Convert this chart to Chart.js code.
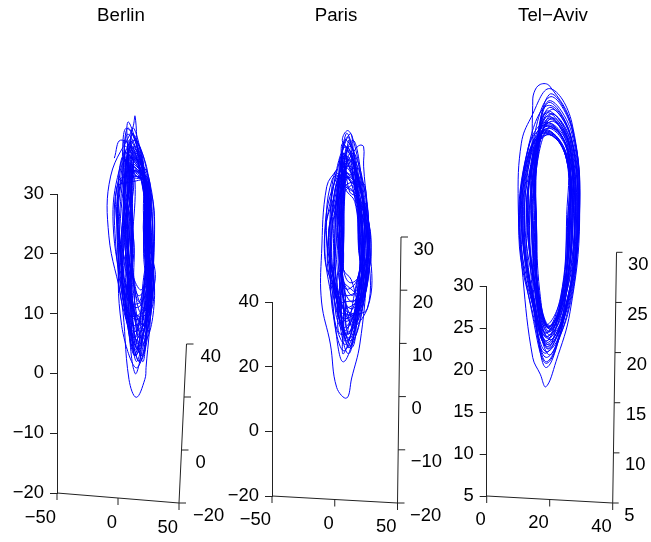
<!DOCTYPE html>
<html>
<head>
<meta charset="utf-8">
<title>Berlin, Paris, Tel-Aviv</title>
<script src="https://cdn.jsdelivr.net/npm/chart.js@4"></script>
<style>
  html, body { margin: 0; background: #fff; overflow: hidden; }
  canvas { position: absolute; top: 0; }
</style>
</head>
<body>
<canvas id="berlin" width="242" height="542" style="left:0"></canvas>
<canvas id="paris" width="238" height="542" style="left:217px"></canvas>
<canvas id="telAviv" width="206" height="542" style="left:450px"></canvas>
<script>
const cities = ["Berlin", "Paris", "Tel\u2212Aviv"];

// left axis, bottom axis and back axis tick labels
const berlinYTicks = [-20, -10, 0, 10, 20, 30];
const berlinXTicks = [-50, 0, 50];
const berlinZTicks = [-20, 0, 20, 40];
const parisYTicks = [-20, 0, 20, 40];
const parisXTicks = [-50, 0, 50];
const parisZTicks = [-20, -10, 0, 10, 20, 30];
const telAvivYTicks = [5, 10, 15, 20, 25, 30];
const telAvivXTicks = [0, 20, 40];
const telAvivZTicks = [5, 10, 15, 20, 25, 30];

// traces, in bottom axis / left axis units
const berlinX = [
  -3, 2, 14, 24, 27, 23, 22, 15, 9, 3, -7.5, -6,
  12, 14, 17, 26, 28, 20, 14, 8, 1, 4,
  8, 21, 25, 27, 18, 8, 4, 6,
  10, 22, 23, 26, 14, 5, -1, 3,
  7, 24, 28, 24, 16, 9, 6, 5,
  13, 25, 26, 29, 19, 10, 2, 8,
  9, 20, 22, 22, 13, 6, 8, 7,
  6, 22, 29, 25, 20, 7, -2, 0,
  11, 23, 27, 30, 15, 11, 5, 9,
  8, 19, 24, 21, 17, 8, 10, 4,
  14, 26, 25, 26, 12, 6, 3, 10,
  5, 21, 21, 28, 18, 4, 0, 2,
  10, 24, 30, 23, 14, 9, 7, 6,
  12, 22, 23, 27, 16, 3, 1, 7,
  7, 20, 26, 24, 21, 10, 4, 8,
  9, 25, 24, 29, 13, 5, -4, 1,
  13, 21, 22, 25, 19, 8, 9, 11,
  4, 18, 28, 26, 15, 7, 2, -1,
  11, 24, 25, 22, 17, 11, 6, 5,
  8, 23, 27, 28, 14, 6, 3, 6,
  6, 19, 23, 24, 20, 9, -1, 4,
  12, 26, 29, 25, 16, 5, 5, 9,
  10, 20, 21, 27, 13, 8, 1, 3,
  15, 23, 26, 23, 18, 10, 7, 11,
  5, 22, 24, 30, 21, 7, 0, 2,
  9, 21, 28, 21, 15, 4, 4, 7,
  12, 22, 22, 23, 17, 12, 12, 12,
  14, 23, 21, 24, 19, 13, 11, 10,
  10, 21, 23, 22, 15, 10, 13, 9,
  16, 24, 24, 25, 20, 13, 10, 13,
  11, 20, 22, 26, 13, 9, 12, 11,
  13, 23, 22, 22, 18, 11, 9, 8,
  9, 22, 25, 24, 16, 12, 11, 12,
  15, 24, 23, 27, 21, 8, 12, 10,
  12, 21, 21, 23, 14, 11, 8, 13,
  8, 20, 24, 25, 17, 13, 13, 6,
  14, 25, 22, 28, 19, 9, 10, 12,
  11, 22, 26, 22, 22, 12, 6, 9,
  13, 19, 23, 24, 15, 10, 12, 14,
  10, 23, 21, 26, 18, 7, 11, 8,
];
const berlinY = [
  36, 39, 37, 24, 12, 1, -1, -4, -1, 12, 23, 33,
  41, 43, 35, 24, 12, 4, 0, 9, 22, 33,
  40, 33, 22, 11, 2, 10, 21, 33,
  37, 32, 24, 13, 3, 13, 24, 34,
  41, 34, 20, 10, 5, 14, 25, 36,
  35, 32, 23, 14, 7, 12, 20, 31,
  39, 34, 24, 15, 6, 16, 26, 33,
  38, 32, 22, 12, 3, 10, 22, 32,
  33, 32, 21, 15, 9, 15, 23, 31,
  42, 35, 25, 13, 2, 13, 21, 35,
  36, 32, 20, 11, 8, 12, 24, 32,
  37, 33, 23, 16, 4, 11, 19, 31,
  34, 32, 24, 10, 10, 17, 27, 31,
  40, 33, 19, 13, 1, 8, 22, 36,
  35, 32, 21, 15, 5, 14, 21, 30,
  38, 32, 25, 12, 7, 13, 25, 34,
  39, 35, 22, 14, 3, 15, 24, 34,
  36, 33, 22, 11, 9, 11, 20, 31,
  32, 32, 25, 16, 12, 17, 23, 30,
  41, 32, 23, 13, 6, 10, 19, 35,
  37, 33, 20, 12, 2, 16, 26, 33,
  34, 32, 19, 15, 11, 14, 22, 31,
  38, 35, 26, 10, 4, 12, 23, 36,
  33, 32, 22, 14, 8, 18, 25, 31,
  39, 32, 21, 13, 5, 9, 24, 34,
  36, 34, 24, 16, 3, 13, 20, 32,
  33, 32, 23, 15, 13, 16, 24, 30,
  36, 32, 22, 14, 10, 15, 23, 31,
  38, 32, 24, 16, 7, 14, 21, 33,
  34, 32, 20, 12, 11, 16, 26, 32,
  40, 35, 26, 13, 5, 11, 22, 35,
  37, 32, 21, 15, 14, 17, 19, 31,
  35, 32, 23, 11, 4, 9, 25, 34,
  33, 32, 25, 14, 9, 13, 20, 30,
  41, 34, 20, 13, 3, 7, 24, 37,
  37, 33, 22, 10, 6, 15, 22, 33,
  39, 32, 24, 16, 12, 12, 26, 35,
  33, 32, 19, 14, 8, 11, 21, 31,
  38, 36, 25, 12, 2, 14, 23, 32,
  34, 32, 22, 15, 10, 10, 24, 36,
];

const parisX = [
  1.6, -6.4, -10.5, -10.5, -3.5, 1.5, 9.5, 13.5, 20, 26, 27, 20, 10,
  6, 10, 14, 20, 26, 22, 7, -2, -8, -2,
  16, 20, 23, 23, 27, 20, 10, 1, -4, 0,
  9, 19, 27, 22, 10, 2, -3, 1,
  11, 17, 23, 20, 6, -1, 2, 5,
  8, 21, 28, 24, 12, 4, -6, -2,
  12, 18, 21, 18, 9, 5, 5, 7,
  7, 16, 26, 23, 13, 0, -4, 3,
  10, 20, 24, 25, 7, 1, 0, 4,
  13, 22, 29, 21, 11, 3, -7, -1,
  6, 15, 25, 24, 8, -1, 1, 3,
  11, 19, 22, 19, 14, 6, 6, 8,
  9, 17, 28, 26, 5, 2, -5, 0,
  14, 23, 26, 22, 12, 4, 3, 6,
  7, 20, 24, 20, 9, -2, -2, 2,
  10, 18, 27, 25, 15, 3, -8, -3,
  12, 16, 22, 23, 6, 5, 4, 9,
  8, 21, 29, 21, 11, 0, -1, 1,
  11, 17, 25, 24, 8, 4, -5, 5,
  13, 24, 23, 19, 13, 1, 2, 7,
  6, 19, 26, 26, 10, -1, -3, 0,
  9, 15, 21, 22, 7, 6, 6, 4,
  12, 22, 28, 20, 14, 2, -6, 3,
  10, 18, 24, 23, 9, 3, 0, 6,
  10, 16, 19, 19, 12, 7, 6, 6,
  12, 18, 20, 21, 14, 6, 7, 5,
  8, 17, 22, 20, 10, 8, 4, 7,
  14, 19, 19, 23, 13, 5, 6, 8,
  11, 15, 23, 18, 8, 7, 3, 4,
  9, 20, 21, 22, 15, 3, 7, 6,
  13, 17, 24, 19, 11, 6, 5, 7,
  10, 18, 19, 24, 9, 4, 6, 2,
  15, 21, 22, 20, 13, 7, 4, 5,
  7, 14, 20, 22, 12, 5, 7, 8,
  12, 19, 25, 18, 10, 2, 6, 3,
  9, 16, 19, 21, 14, 6, 2, 6,
  11, 22, 23, 23, 7, 7, 5, 4,
  14, 18, 20, 19, 16, 4, 7, 7,
];
const parisY = [
  81, 75.7, 55, 40, 27, 13.6, 10.3, 16.5, 27, 50, 65, 80, 87,
  90, 93, 91, 80, 58, 42, 21.5, 40, 58, 75,
  87, 88.5, 88, 82, 60, 44, 28, 42, 60, 78,
  88, 78, 60, 45, 30, 42, 58, 76,
  84, 74, 58, 44, 34, 44, 62, 74,
  90, 80, 56, 42, 26, 38, 56, 78,
  78, 72, 60, 47, 44, 50, 62, 72,
  86, 76, 62, 40, 28, 40, 54, 74,
  82, 78, 54, 46, 32, 46, 60, 80,
  88, 72, 58, 40, 36, 42, 62, 72,
  80, 78, 62, 44, 25, 36, 58, 76,
  75, 72, 58, 48, 42, 48, 60, 73,
  85, 80, 56, 38, 30, 40, 60, 70,
  90, 74, 62, 42, 38, 46, 56, 76,
  83, 76, 56, 46, 27, 38, 62, 78,
  79, 70, 60, 44, 33, 42, 54, 72,
  92, 80, 58, 40, 35, 46, 64, 82,
  81, 74, 54, 45, 24, 44, 58, 70,
  87, 72, 62, 42, 40, 40, 60, 74,
  77, 76, 60, 47, 29, 36, 56, 72,
  89, 78, 58, 38, 37, 44, 62, 80,
  76, 74, 56, 44, 31, 48, 58, 74,
  84, 72, 60, 46, 26, 40, 54, 78,
  91, 80, 62, 42, 34, 42, 60, 76,
  74, 71, 60, 48, 46, 50, 60, 70,
  86, 74, 56, 46, 40, 46, 62, 76,
  82, 76, 62, 44, 32, 44, 56, 78,
  78, 72, 58, 42, 44, 48, 64, 74,
  90, 82, 54, 47, 28, 40, 58, 84,
  84, 70, 60, 40, 36, 38, 52, 72,
  76, 74, 64, 46, 30, 46, 60, 80,
  88, 78, 56, 44, 38, 42, 58, 70,
  80, 70, 58, 38, 47, 50, 62, 76,
  86, 80, 62, 48, 26, 36, 56, 82,
  74, 72, 54, 44, 42, 44, 60, 72,
  92, 84, 60, 42, 32, 48, 64, 86,
  78, 74, 56, 46, 24, 38, 54, 74,
  84, 76, 64, 40, 34, 46, 58, 78,
];

const telAvivX = [
  14.4, 14.6, 15, 17, 20, 27, 29.5, 26.5, 22, 18.8, 17, 14.6, 11.5, 10, 11, 14,
  20, 27, 29.3, 25.5, 19, 15, 10.5, 13.5,
  19.5, 26.5, 28.8, 25, 19.5, 15.5, 11, 14,
  20, 27.2, 29.5, 26, 19.2, 14.8, 10.2, 13.2,
  19, 26, 28, 24.5, 18.8, 16, 12, 14.5,
  19.8, 25.8, 27.8, 24.2, 19.5, 16.2, 13, 15,
  20.5, 26.8, 29, 25.2, 19, 15.2, 11.5, 14,
  19.2, 25.5, 27.2, 24, 20, 16.5, 14, 15.5,
  19.8, 26.2, 28.5, 25, 18.5, 15, 12.5, 14.8,
  20.2, 26.4, 28.2, 24.8, 19.2, 15.8, 10.8, 13.8,
  18.8, 25.6, 26.8, 23.8, 19.8, 16.4, 13.5, 15.2,
  19.5, 27, 29.2, 25.6, 18.9, 14.9, 11.2, 14.2,
  20.8, 26, 27.5, 24.4, 20.2, 16, 12.8, 15,
  19, 26.6, 28.6, 25.3, 19.4, 15.4, 10.6, 13.4,
  20, 25.4, 26.6, 23.6, 19, 16.6, 14.5, 15.6,
  19.6, 26.9, 29, 25.8, 18.7, 15.1, 12, 14.4,
  18.6, 25.7, 27.9, 24.6, 20, 15.9, 13.2, 14.9,
  20.4, 26.3, 28, 24.9, 19.3, 15.6, 11.8, 14.1,
  19.3, 25.5, 26.9, 24.1, 19.7, 16.3, 14.2, 15.4,
  19.9, 27.1, 29.4, 25.4, 19.1, 14.7, 10.9, 13.7,
  20.1, 25.9, 27.4, 24.3, 18.6, 16.1, 12.6, 15.1,
  19.1, 26.1, 28.3, 25.1, 19.6, 15.3, 13.7, 14.6,
  20.6, 25.3, 26.7, 23.9, 19.9, 16.7, 14.8, 15.7,
  19.4, 26.7, 28.9, 25.7, 18.9, 15, 11.4, 14.3,
  19.5, 25.6, 25.5, 23.5, 19.4, 16.8, 15.8, 15.8,
  20.2, 26, 26, 24, 19.7, 16.4, 15.6, 15.4,
  19, 25.2, 25.4, 23.8, 18.9, 16, 15.9, 15.6,
  20.5, 26.4, 26.5, 24.6, 20.1, 15.7, 15.2, 15.2,
  19.7, 25.9, 25.7, 24.2, 19.2, 16.2, 15.7, 15.8,
  18.9, 26.2, 26.2, 23.7, 19.6, 15.9, 14.7, 15,
  20, 25.6, 25.6, 24.4, 19.8, 16.5, 15.3, 15.5,
  19.4, 25.4, 26.3, 23.9, 18.8, 16.1, 15.8, 15.9,
  20.3, 26.5, 27, 24.7, 20, 15.5, 14.4, 14.8,
  19.6, 25.7, 25.9, 24, 19.3, 16.3, 15.6, 15.7,
];
const telAvivY = [
  46, 51.5, 53, 54, 53.8, 49, 38, 27, 21, 18, 19.5, 21.5, 31, 40, 47, 50,
  53.5, 49.5, 38, 28, 20.3, 27, 37, 47,
  51.5, 48, 37, 27.5, 22.5, 27.5, 38, 46,
  52.5, 48.5, 39, 28.5, 21, 26.5, 36, 46.5,
  49.5, 46.5, 36, 27, 24, 28, 38, 45,
  50, 46.5, 37, 28, 24.5, 28.5, 37, 45.5,
  51, 47.5, 38, 27.5, 23, 27, 36.5, 46,
  48.5, 45.5, 36.5, 28, 25, 29, 39, 44.5,
  49.8, 46.8, 37.5, 27, 22, 27.5, 37, 45.5,
  50.5, 47, 39, 28.2, 23.5, 26.8, 38.5, 46.2,
  48.2, 45.2, 35.5, 27.8, 25.2, 28.6, 36, 44.8,
  52, 48.2, 37.8, 26.8, 21.5, 27.2, 37.5, 46.8,
  48.8, 45.8, 38.6, 28.4, 24.8, 29.2, 39.5, 45,
  50.8, 47.2, 36.8, 27.3, 22.8, 26.6, 35.5, 46,
  48, 45, 37.2, 28.6, 25.4, 28.8, 38, 44.2,
  51.2, 47.6, 38.8, 27.6, 23.2, 27.8, 36.8, 46.4,
  49.2, 46.2, 35.8, 28.1, 24.2, 28.2, 39, 45.2,
  49.6, 46.4, 37.6, 27.1, 23.8, 27, 37.2, 45.6,
  48.4, 45.4, 36.2, 28.3, 25.1, 29, 38.2, 44.6,
  52.8, 48.8, 38.2, 27.4, 20.8, 26.2, 36.4, 47,
  49, 46, 37.4, 28.5, 24.4, 28.4, 38.8, 45,
  50.2, 46.9, 36.6, 27.2, 23, 27.6, 35.8, 45.8,
  48.1, 45.1, 38.4, 28.7, 25.3, 28.9, 37.8, 44.4,
  51.8, 47.9, 37, 26.6, 22.2, 27.4, 38.6, 46.6,
  48.2, 45, 37, 28.8, 25, 29.5, 37, 44,
  49, 45.8, 36, 28, 24.6, 29, 38.5, 45,
  48.6, 45.3, 38.5, 28.6, 24.4, 28.4, 36, 44.6,
  50, 46.6, 39, 27.4, 23.6, 28, 37.8, 46,
  48.8, 45.6, 35.5, 28.2, 25.1, 28.8, 38, 44.8,
  50.6, 47, 37.6, 28.9, 22.6, 27.8, 36.6, 46.2,
  49.2, 45.9, 36.4, 27.8, 24.9, 29.3, 39.2, 45.4,
  48.3, 45.1, 38, 28.4, 23.4, 28.3, 37.2, 44.3,
  50.4, 47.4, 38.2, 27.7, 21.8, 27.5, 35.4, 46.3,
  49.4, 46, 37, 28.5, 24, 28.7, 38.4, 45.2,
];

// slanted axes cannot be chart.js scales, drawn from the ticks here
const slantedAxes = {
  id: "slantedAxes",
  afterDraw(chart, args, opts) {
    const c = chart.ctx;
    const left = chart.chartArea.left;
    const right = chart.chartArea.right;
    const bottom = chart.chartArea.bottom;
    const xScale = chart.scales.x;
    c.save();
    c.strokeStyle = "#222";
    c.fillStyle = "#000";
    c.lineWidth = 1;
    c.font = opts.font;
    c.beginPath();
    c.moveTo(left, bottom);
    c.lineTo(right, bottom + opts.drop);
    c.lineTo(right + opts.lean, bottom + opts.drop - opts.rise);
    c.stroke();

    c.textAlign = "right";
    c.textBaseline = "middle";
    opts.xTicks.forEach((t) => {
      const px = xScale.getPixelForValue(t);
      const py = bottom + (opts.drop * (px - left)) / (right - left);
      c.beginPath();
      c.moveTo(px, py);
      c.lineTo(px, py + 7);
      c.stroke();
      c.fillText(String(t).replace("-", "\u2212"), px - 1, py + opts.xLabelGap);
    });

    const zMin = opts.zTicks[0];
    const zMax = opts.zTicks[opts.zTicks.length - 1];
    c.textAlign = "left";
    opts.zTicks.forEach((t) => {
      const f = (t - zMin) / (zMax - zMin);
      const px = right + opts.lean * f;
      const py = bottom + opts.drop - opts.rise * f;
      c.beginPath();
      c.moveTo(px, py);
      c.lineTo(px + opts.tick, py);
      c.stroke();
      c.fillText(String(t).replace("-", "\u2212"), px + opts.zLabelGap, py + 12.5);
    });

    // panel title sits over the whole 3d box, not the chart area
    c.textAlign = "center";
    c.font = opts.titleFont;
    c.fillText(opts.title, opts.titleX, 15.5);
    c.restore();
  },
};

function makePanel(id, title, xs, ys, yTicks, xTicks, zTicks, box) {
  const points = xs.map((x, i) => ({ x: x, y: ys[i] }));
  new Chart(document.getElementById(id), {
    type: "scatter",
    data: {
      datasets: [
        {
          data: points,
          showLine: true,
          borderColor: "#0000ff",
          borderWidth: 1,
          tension: 0.4,
          pointRadius: 0,
          clip: false,
        },
      ],
    },
    options: {
      responsive: false,
      animation: false,
      layout: {
        padding: { right: box.padRight, bottom: box.padBottom, left: 0, top: box.top },
      },
      scales: {
        x: {
          display: false,
          min: xTicks[0],
          max: xTicks[xTicks.length - 1],
        },
        y: {
          min: yTicks[0],
          max: yTicks[yTicks.length - 1],
          afterFit: (scale) => {
            scale.width = box.axisLeft;
          },
          afterBuildTicks: (scale) => {
            scale.ticks = yTicks.map((v) => ({ value: v }));
          },
          border: { color: "#222", width: 1 },
          grid: { drawOnChartArea: false, color: "#222", tickLength: 7 },
          ticks: {
            color: "#000",
            padding: 6,
            autoSkip: false,
            maxRotation: 0,
            font: { family: "Liberation Sans", size: 18.4 },
            callback: (v) => String(v).replace("-", "\u2212"),
          },
        },
      },
      plugins: {
        legend: { display: false },
        tooltip: { enabled: false },
        slantedAxes: {
          title: title,
          titleX: box.titleX,
          titleFont: "18.7px 'Liberation Sans'",
          xTicks: xTicks,
          zTicks: zTicks,
          font: "18.4px 'Liberation Sans'",
          drop: box.drop,
          rise: box.rise,
          lean: box.lean,
          tick: box.tick,
          xLabelGap: box.xLabelGap,
          zLabelGap: box.zLabelGap,
        },
      },
    },
    plugins: [slantedAxes],
  });
}

makePanel("berlin", cities[0], berlinX, berlinY, berlinYTicks, berlinXTicks, berlinZTicks, {
  axisLeft: 57, padRight: 63, top: 194, padBottom: 49, titleX: 121,
  drop: 10, rise: 159, lean: 7.5, tick: 7, xLabelGap: 25, zLabelGap: 14,
});
makePanel("paris", cities[1], parisX, parisY, parisYTicks, parisXTicks, parisZTicks, {
  axisLeft: 55, padRight: 57.5, top: 302, padBottom: 46, titleX: 119,
  drop: 7, rise: 266, lean: 3.5, tick: 7, xLabelGap: 24, zLabelGap: 12.5,
});
makePanel("telAviv", cities[2], telAvivX, telAvivY, telAvivYTicks, telAvivXTicks, telAvivZTicks, {
  axisLeft: 36.7, padRight: 43.3, top: 286, padBottom: 46, titleX: 103,
  drop: 7, rise: 250.7, lean: 3.8, tick: 6, xLabelGap: 23.5, zLabelGap: 11.5,
});
</script>
</body>
</html>
